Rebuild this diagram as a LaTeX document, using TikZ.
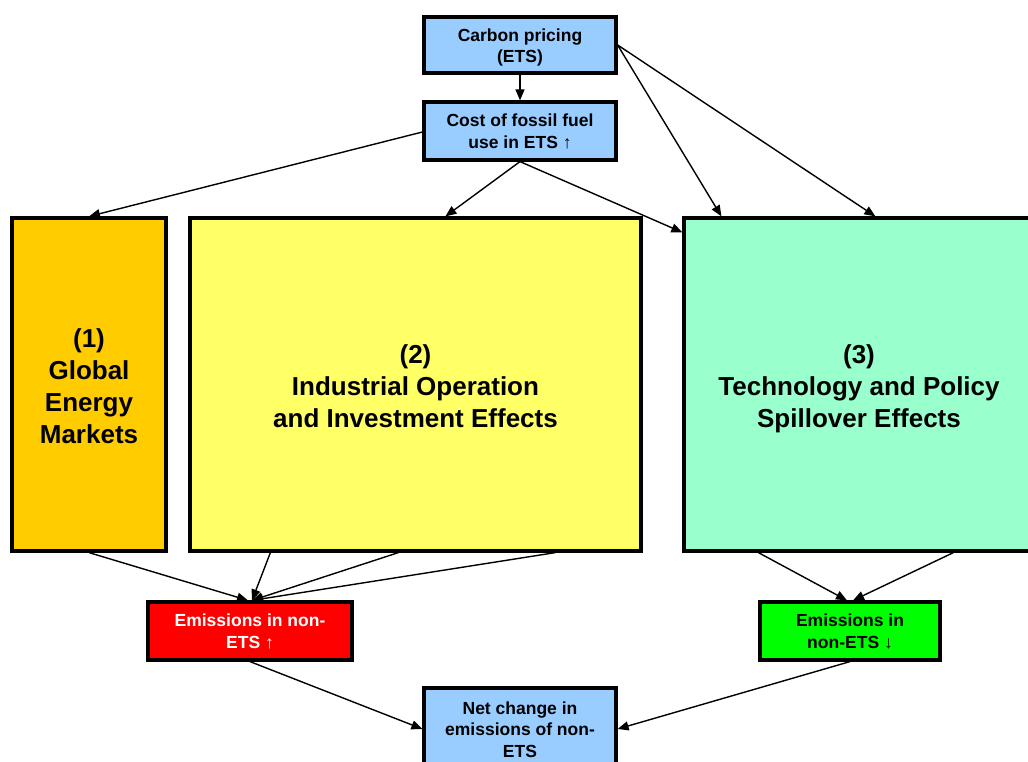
\documentclass[tikz,border=0pt]{standalone}
\usepackage{fontspec}
\setmainfont{Liberation Sans}
\usetikzlibrary{arrows.meta}
\definecolor{lblue}{HTML}{99CCFF}
\definecolor{gold}{HTML}{FFCC00}
\definecolor{lyellow}{HTML}{FFFF66}
\definecolor{mint}{HTML}{99FFCC}
\definecolor{bred}{HTML}{FF0000}
\definecolor{bgreen}{HTML}{00FF00}
\newcommand\boxtxt[2]{\smash{\raisebox{#1}{\begin{tabular}{@{}c@{}}#2\end{tabular}}}}
\tikzset{
  box/.style={draw=black, line width=3.2pt, inner sep=0pt, font=\fontsize{17.5}{21.5}\selectfont\bfseries},
  bigbox/.style={draw=black, line width=3.2pt, inner sep=0pt, font=\fontsize{26}{31.8}\selectfont\bfseries},
  conn/.style={line width=1.4pt, -{Triangle[length=11pt,width=9pt]}},
}
\begin{document}
\begin{tikzpicture}[x=1pt,y=-1pt]
\clip (0,0) rectangle (1028,762);
\fill[white] (0,0) rectangle (1028,762);
\node[box, fill=lblue, minimum width=192pt, minimum height=56pt] (cp) at (520,45) {\boxtxt{-7pt}{Carbon pricing\\(ETS)}};
\node[box, fill=lblue, minimum width=192pt, minimum height=58pt] (cost) at (520,131) {\boxtxt{-6.5pt}{Cost of fossil fuel\\use in ETS ↑}};
\node[bigbox, fill=gold, minimum width=154pt, minimum height=333pt] (m1) at (89,384.5) {\boxtxt{-10.8pt}{(1)\\Global\\Energy\\Markets}};
\node[bigbox, fill=lyellow, minimum width=451pt, minimum height=333pt] (m2) at (415.5,384.5) {\boxtxt{-10.6pt}{(2)\\Industrial Operation\\and Investment Effects}};
\node[bigbox, fill=mint, minimum width=350pt, minimum height=333pt] (m3) at (859,384.5) {\boxtxt{-10.6pt}{(3)\\Technology and Policy\\Spillover Effects}};
\node[box, fill=bred, text=white, minimum width=204pt, minimum height=58pt] (red) at (250,631) {\boxtxt{-6.5pt}{Emissions in non-\\ETS ↑}};
\node[box, fill=bgreen, minimum width=180pt, minimum height=58pt] (green) at (850,631) {\boxtxt{-6.5pt}{Emissions in\\non-ETS ↓}};
\node[box, fill=lblue, minimum width=192pt, minimum height=82pt] (net) at (520,729) {\boxtxt{-7pt}{Net change in\\emissions of non-\\ETS}};
% top connectors
\draw[conn] (cp.south) -- (cost.north);
\draw[conn] ([yshift=-1pt]cost.west) -- (m1.north);
\draw[conn] (cost.south) -- ([xshift=257pt]m2.north west);
\draw[conn] (cost.south) -- ([yshift=-16pt]m3.north west);
\draw[conn] (cp.east) -- ([xshift=39pt]m3.north west);
\draw[conn] (cp.east) -- ([xshift=193pt]m3.north west);
% bottom connectors
\draw[conn] (m1.south) -- ([xshift=-2pt]red.north);
\draw[conn] ([xshift=82pt]m2.south west) -- ([xshift=2pt]red.north);
\draw[conn] ([xshift=210pt]m2.south west) -- ([xshift=2pt]red.north);
\draw[conn] ([xshift=367pt]m2.south west) -- ([xshift=2pt]red.north);
\draw[conn] ([xshift=76pt]m3.south west) -- ([xshift=-3pt]green.north);
\draw[conn] ([xshift=271pt]m3.south west) -- ([xshift=3pt]green.north);
\draw[conn] (red.south) -- (net.west);
\draw[conn] (green.south) -- (net.east);
\end{tikzpicture}
\end{document}
